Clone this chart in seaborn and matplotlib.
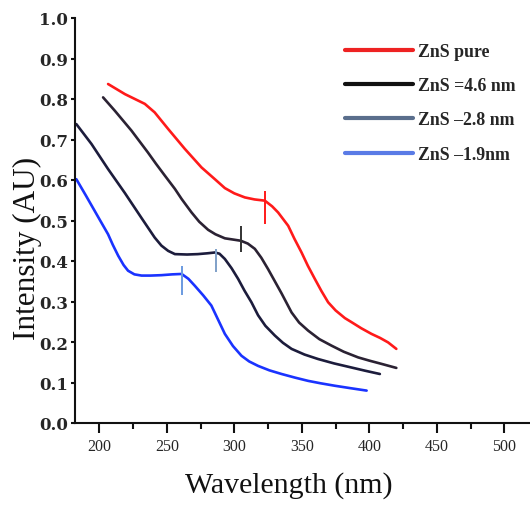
import numpy as np
import pandas as pd
import matplotlib
matplotlib.use("Agg")
import matplotlib.pyplot as plt
from matplotlib.lines import Line2D
import seaborn as sns

# ---- data ----
pure_x = [206.5, 219, 233.7, 241, 251, 263.3, 275.7, 285.6, 293, 300, 307.8, 315, 322.6, 328,
          332.4, 339.9, 344.5, 349.8, 354.5, 359.6, 364.5, 369.5, 375, 381.9, 386.8, 394, 401.6,
          408, 413.9, 420]
pure_y = [0.837, 0.812, 0.788, 0.767, 0.726, 0.677, 0.631, 0.602, 0.58, 0.567, 0.557, 0.552,
          0.549, 0.535, 0.52, 0.487, 0.455, 0.421, 0.388, 0.356, 0.326, 0.298, 0.278, 0.259,
          0.249, 0.234, 0.22, 0.21, 0.199, 0.183]

nm46_x = [202.8, 211.5, 223.8, 236, 242, 248.5, 256, 261, 268.3, 274, 280.6, 286, 293, 299,
          304.8, 310, 315.2, 320, 325, 330, 335, 342.4, 348, 354.7, 363, 372, 381, 391.7, 400,
          409, 420]
nm46_y = [0.804, 0.771, 0.722, 0.668, 0.64, 0.611, 0.578, 0.553, 0.52, 0.497, 0.477, 0.466,
          0.456, 0.453, 0.45, 0.443, 0.43, 0.408, 0.38, 0.35, 0.32, 0.273, 0.248, 0.228, 0.207,
          0.191, 0.176, 0.162, 0.154, 0.146, 0.136]

nm28_x = [183, 194.2, 206.5, 218.9, 231.3, 241, 246, 251, 256, 265, 273, 280, 285.6, 289, 293,
          298, 302.8, 307.5, 312.7, 317.6, 323, 330, 336, 342.4, 352, 362, 374, 386.8, 397,
          407.8]
nm28_y = [0.738, 0.689, 0.627, 0.568, 0.506, 0.458, 0.438, 0.425, 0.417, 0.416, 0.417, 0.419,
          0.421, 0.418, 0.405, 0.382, 0.356, 0.327, 0.298, 0.266, 0.24, 0.216, 0.198, 0.183,
          0.169, 0.158, 0.147, 0.137, 0.129, 0.121]

nm19_x = [183, 190, 196.7, 201.5, 206.5, 210, 214, 218, 221.3, 226, 231.3, 238, 246, 254, 261,
          266, 270.7, 277, 283, 288, 293, 299, 305.3, 311, 317.6, 326, 335, 345, 354.7, 364,
          374.4, 386, 398]
nm19_y = [0.602, 0.562, 0.523, 0.495, 0.466, 0.44, 0.413, 0.39, 0.376, 0.367, 0.364, 0.364,
          0.365, 0.367, 0.368, 0.356, 0.339, 0.315, 0.29, 0.255, 0.22, 0.19, 0.166, 0.152,
          0.141, 0.13, 0.121, 0.112, 0.104, 0.098, 0.092, 0.086, 0.08]

labels = ["ZnS pure", "ZnS =4.6 nm", "ZnS \u20132.8 nm", "ZnS \u20131.9nm"]

# band-edge marks: wavelength, lower and upper intensity
mark_x = [322.6, 304.8, 286.8, 261.6]
mark_lo = [0.491, 0.422, 0.373, 0.316]
mark_hi = [0.573, 0.486, 0.43, 0.388]

x_ticks = [200, 250, 300, 350, 400, 450, 500]
y_ticks = [0.0, 0.1, 0.2, 0.3, 0.4, 0.5, 0.6, 0.7, 0.8, 0.9, 1.0]

line_colors = ["#ff1a1a", "#2b2233", "#1c1c3c", "#1a33ff"]
mark_colors = ["#ff1a1a", "#333333", "#7fa0c8", "#6a9ae0"]
legend_colors = ["#ee2222", "#111111", "#5a6e8c", "#5a7be6"]

frames = []
for lab, xs, ys in zip(labels, [pure_x, nm46_x, nm28_x, nm19_x],
                       [pure_y, nm46_y, nm28_y, nm19_y]):
    frames.append(pd.DataFrame({"Wavelength": xs, "Intensity": ys, "Sample": lab}))
df = pd.concat(frames, ignore_index=True)

sns.set_theme(style="white")
plt.rcParams["font.family"] = ["Liberation Serif", "DejaVu Serif"]

fig = plt.figure(figsize=(5.30, 5.06), dpi=100)
ax = fig.add_axes([75 / 530, 1 - 424 / 506, 455 / 530, 405 / 506])

sns.lineplot(data=df, x="Wavelength", y="Intensity", hue="Sample", hue_order=labels,
             palette=line_colors, linewidth=1.9, legend=False, ax=ax, sort=False)

for mx, lo, hi, c in zip(mark_x, mark_lo, mark_hi, mark_colors):
    ax.vlines(mx, lo, hi, color=c, linewidth=1.4)

ax.set_xlim(182, 519)
ax.set_ylim(0, 1.0)
ax.set_xticks(x_ticks)
ax.set_xticks([225, 275, 325, 375, 425, 475], minor=True)
ax.set_yticks(y_ticks)
ax.set_yticklabels([f"{v:.1f}" for v in y_ticks], fontfamily="DejaVu Serif",
                   fontweight="bold", fontsize=12)
ax.set_xticklabels([str(v) for v in x_ticks], fontsize=11.5)

for s in ["top", "right"]:
    ax.spines[s].set_visible(False)
for s in ["left", "bottom"]:
    ax.spines[s].set_color("#111111")
    ax.spines[s].set_linewidth(1.5)

ax.tick_params(axis="x", which="major", direction="out", length=7, width=1.5,
               color="#111111", pad=4, bottom=True)
ax.tick_params(axis="x", which="minor", direction="out", length=4, width=1.5,
               color="#111111", bottom=True)
ax.tick_params(axis="y", which="major", direction="out", length=3, width=1.5,
               color="#111111", pad=2, left=True)

ax.set_xlabel("Wavelength (nm)", fontsize=21.5, color="#111111")
ax.set_ylabel("Intensity (AU)", fontsize=22.5, color="#111111")
ax.xaxis.set_label_coords((289 - 75) / 455, (424 - 472) / 405)
ax.yaxis.set_label_coords((42 - 75) / 455, (424 - 248) / 405)

handles = [Line2D([0], [0], color=c, linewidth=3) for c in legend_colors]
fig.legend(handles, labels, loc="upper left", bbox_to_anchor=(345 / 530, 1 - 44 / 506),
           frameon=False, borderpad=0, borderaxespad=0, handlelength=3.8,
           handletextpad=0.3, labelspacing=0.97,
           prop={"family": "Liberation Serif", "weight": "bold", "size": 12.8})

fig.savefig("out.png", dpi=100)
